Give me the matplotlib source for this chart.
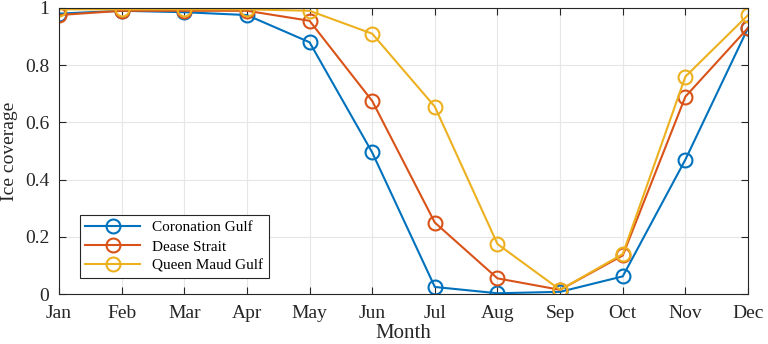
import numpy as np
import matplotlib.pyplot as plt

months = ["Jan", "Feb", "Mar", "Apr", "May", "Jun", "Jul", "Aug", "Sep", "Oct", "Nov", "Dec"]
coronation = [0.98, 0.99, 0.985, 0.975, 0.88, 0.495, 0.025, 0.003, 0.008, 0.062, 0.47, 0.93]
dease = [0.975, 0.99, 0.99, 0.99, 0.955, 0.675, 0.25, 0.055, 0.015, 0.135, 0.69, 0.93]
queen_maud = [0.995, 0.995, 0.995, 0.995, 0.99, 0.91, 0.655, 0.175, 0.015, 0.14, 0.76, 0.975]

plt.rcParams['font.family'] = ['Liberation Serif', 'DejaVu Serif']

fig = plt.figure(figsize=(7.68, 3.44), dpi=100)
ax = fig.add_axes([0.0768, 0.145, 0.974 - 0.0768, 0.977 - 0.145])

x = np.arange(1, 13)
cols = ["#0072BD", "#D95319", "#EDB120"]
for y, c, lab in zip([coronation, dease, queen_maud], cols,
                     ["Coronation Gulf", "Dease Strait", "Queen Maud Gulf"]):
    ax.plot(x, y, '-o', color=c, lw=1.5, ms=10, mfc='none', mew=1.5, label=lab)

ax.set_xlim(1, 12)
ax.set_ylim(0, 1)
ax.set_xticks(x)
ax.set_xticklabels(months)
ax.set_yticks([0, 0.2, 0.4, 0.6, 0.8, 1])
ax.set_yticklabels(["0", "0.2", "0.4", "0.6", "0.8", "1"])
ax.tick_params(direction='in', top=True, right=True, labelsize=14, colors='#262626', length=5)
ax.tick_params(axis='x', pad=8)
ax.tick_params(axis='y', pad=7)
ax.grid(True, color='#e6e6e6', lw=0.8)
ax.set_axisbelow(True)
for s in ax.spines.values():
    s.set_color('#262626')
    s.set_linewidth(0.8)
ax.set_xlabel("Month", fontsize=15, color='#262626')
ax.xaxis.set_label_coords(0.5, -0.105)
ax.set_ylabel("Ice coverage", fontsize=14, color='#262626', labelpad=5)

leg = ax.legend(loc='lower left', bbox_to_anchor=(0.019, 0.03), fontsize=11,
                fancybox=False, edgecolor='#262626', framealpha=1,
                handlelength=3.6, borderpad=0.35, labelspacing=0.35)
leg.get_frame().set_linewidth(0.8)

fig.savefig("out.png", dpi=100)
